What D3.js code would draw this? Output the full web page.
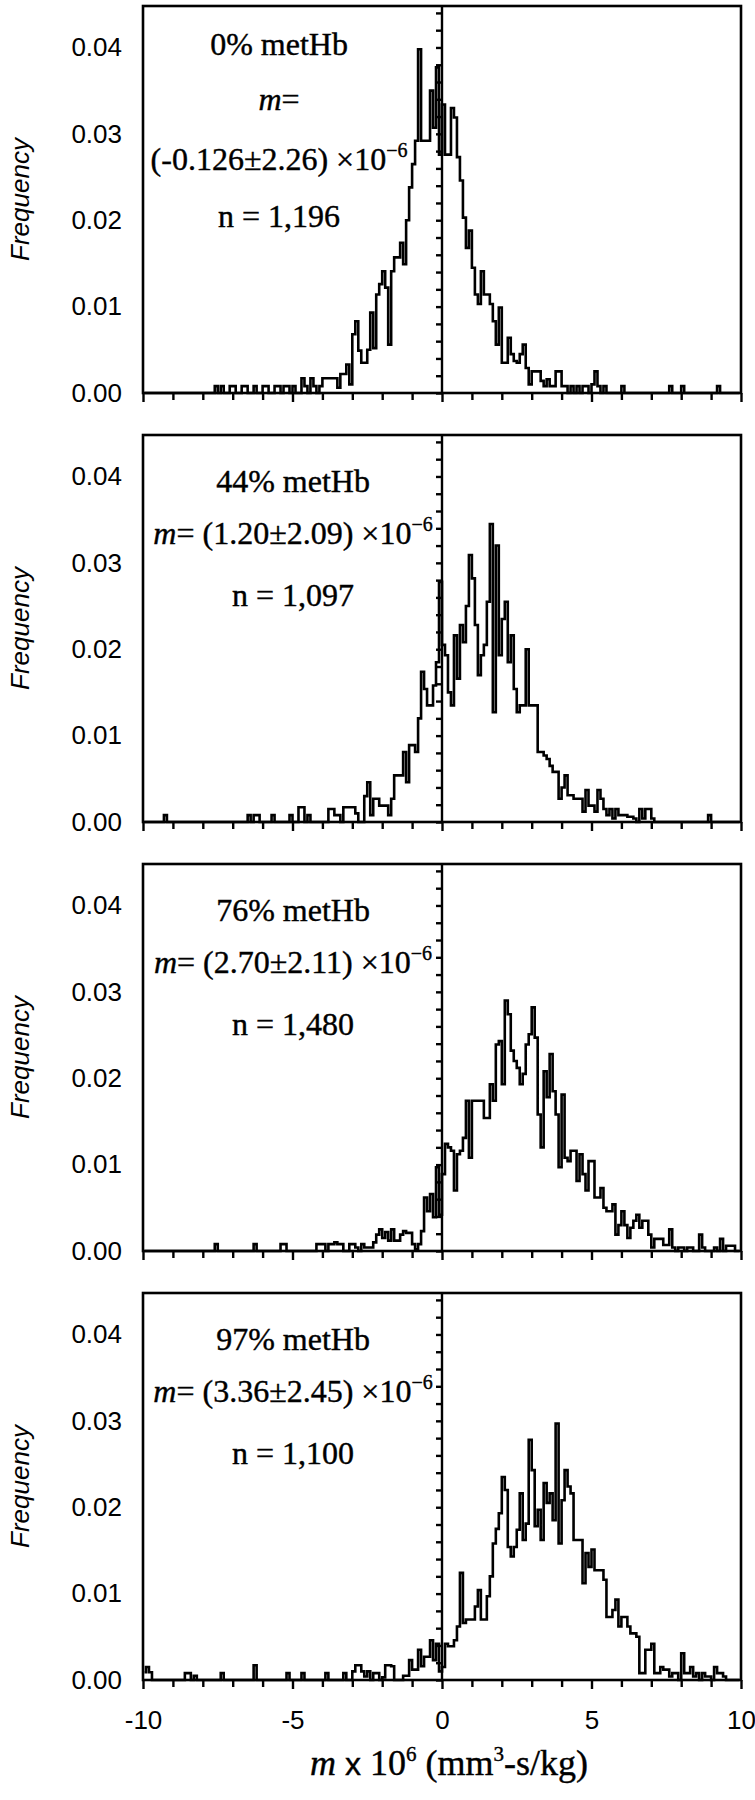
<!DOCTYPE html>
<html>
<head>
<meta charset="utf-8">
<script src="https://cdn.jsdelivr.net/npm/d3@7"></script>
<style>
  body { margin: 0; background: #fff; }
  svg { display: block; }
</style>
</head>
<body>
<div id="chart"></div>
<script>
// histogram bins: lower edge -10, width 0.1, frequency values in units of 0.001
const binStart = -10;
const binWidth = 0.1;
const FREQ_UNIT = 0.001;

const freq0 = [
  0,0,0,0,0,0,0,0,0,0,
  0,0,0,0,0,0,0,0,0,0,
  0,0,0,0,.8,0,.8,0,0,.8,
  .8,0,0,.8,.8,0,0,.8,0,0,
  .8,.8,0,0,.8,.8,0,.8,.8,0,
  .8,0,0,1.7,.8,0,1.7,.8,0,.8,
  1.7,1.7,1.7,1.7,1.7,.6,2.2,2.2,3.3,1.0,
  6.8,8.3,4.9,3.5,3.5,5.0,9.3,5.2,11.4,12.6,
  14.1,12.2,5.6,14.1,15.7,15.7,17.4,14.9,20.0,23.8,
  26.5,29.2,39.8,29.2,29.2,29.2,35.0,30.7,37.7,27.6,
  33.4,27.6,27.6,33.0,31.9,27.3,24.6,20.3,16.8,18.8,
  14.5,11.4,10.3,14.1,11.4,11.4,10.3,8.3,5.6,9.9,
  3.5,3.5,6.4,4.5,3.7,3.5,4.5,5.6,2.9,1.0,
  2.5,2.5,2.5,1.4,.8,1.6,.8,.8,2.5,2.5,
  .8,.8,0,.8,0,.8,0,.8,.8,0,
  1.0,2.5,.8,0,.8,0,0,0,0,0,
  .8,0,0,0,0,0,0,0,0,0,
  0,0,0,0,0,0,.8,0,0,0,
  .8,0,0,0,0,0,0,0,0,0,
  0,0,.8,0,0,0,0,0,0,0
];

const freq44 = [
  0,0,0,0,0,0,0,.8,0,0,
  0,0,0,0,0,0,0,0,0,0,
  0,0,0,0,0,0,0,0,0,0,
  0,0,0,0,0,.8,0,.8,.8,0,
  0,0,0,.8,0,0,0,0,0,.8,
  0,0,1.7,1.7,0,.8,0,0,0,0,
  0,0,1.5,1.5,.8,.8,0,1.7,1.7,1.7,
  1.7,1.0,0,0,3.0,4.6,.8,2.7,2.7,1.9,
  1.9,1.9,.8,2.7,5.4,5.4,5.4,8.1,4.6,8.9,
  8.9,8.1,12.0,17.4,15.4,13.5,13.5,15.8,18.5,27.8,
  20.5,19.3,15.0,13.5,21.6,16.6,22.8,20.8,25.0,30.9,
  28.2,22.8,17.0,19.3,20.5,25.5,34.5,12.7,32.0,19.3,
  23.5,25.5,18.5,21.6,15.4,12.7,13.5,13.5,20.0,13.5,
  13.5,13.5,8.1,8.1,7.7,7.3,6.5,5.8,5.8,2.7,
  4.0,5.4,3.1,3.1,2.7,2.7,2.7,1.2,3.7,1.9,
  1.9,1.2,3.7,2.7,1.5,.8,1.5,.4,1.5,.8,
  .8,.8,.6,.6,.4,0,1.5,.4,1.5,1.5,
  .4,0,0,0,0,0,0,0,0,0,
  0,0,0,0,0,0,0,0,0,.8,
  0,0,0,0,0,0,0,0,0,0
];

const freq76 = [
  0,0,0,0,0,0,0,0,0,0,
  0,0,0,0,0,0,0,0,0,0,
  0,0,0,0,.8,0,0,0,0,0,
  0,0,0,0,0,0,0,.8,0,0,
  0,0,0,0,0,0,.8,.8,0,0,
  0,0,0,0,0,0,0,0,.8,.8,
  .8,0,.8,.8,1.0,.8,.8,0,0,.8,
  .8,.4,0,.8,.4,.4,.4,1.0,1.9,2.5,
  1.5,2.2,1.2,2.5,1.2,1.2,1.9,2.3,2.1,2.1,
  .8,.2,.8,2.3,6.2,4.6,6.6,3.9,9.7,4.2,
  8.9,12.4,12.0,11.6,7.0,11.2,11.6,13.1,17.4,10.8,
  17.4,17.4,17.4,17.4,15.4,15.4,19.3,17.4,23.9,24.3,
  19.3,29.0,27.4,23.2,22.0,21.2,19.3,20.5,23.9,25.1,
  28.2,24.7,15.8,12.0,20.8,17.8,22.8,18.5,15.8,9.7,
  18.1,10.8,10.4,11.6,11.6,8.1,11.2,8.9,7.0,10.4,
  10.4,6.2,6.2,7.3,5.0,4.6,4.6,5.4,1.9,3.0,
  4.6,3.0,1.5,2.7,3.5,4.2,2.7,3.5,3.5,1.9,
  .4,1.4,1.4,1.4,.7,.7,2.5,.4,0,.4,
  .4,0,.4,.4,0,0,1.9,.4,0,0,
  0,.4,0,1.4,0,.6,.6,.6,0,0
];

const freq97 = [
  .9,1.5,.9,0,0,0,0,0,0,0,
  0,0,0,0,.8,.8,0,.5,0,0,
  0,0,0,0,0,0,.8,0,0,0,
  0,0,0,0,0,0,0,1.7,0,0,
  0,0,0,0,0,0,0,0,.8,0,
  0,0,0,.8,0,0,0,0,0,0,
  0,.8,0,0,0,0,0,.8,0,0,
  1.0,1.7,1.7,1.0,.4,1.0,0,.8,.8,0,
  .3,1.7,1.7,1.6,0,0,0,.5,.5,2.3,
  1.2,1.2,3.5,1.6,2.7,2.7,4.6,2.3,4.2,1.0,
  1.5,4.2,3.9,3.9,4.6,6.2,12.4,6.6,7.0,7.0,
  7.0,8.5,10.4,7.0,7.0,9.7,12.0,15.8,17.5,19.3,
  23.5,22.0,15.4,14.3,15.4,17.4,21.6,16.2,18.1,27.8,
  24.3,17.8,19.7,16.2,22.8,20.5,21.6,18.5,29.7,15.8,
  20.8,24.3,22.4,21.6,16.2,16.2,16.2,11.2,14.7,13.1,
  15.1,12.7,12.7,12.7,11.6,7.3,7.3,8.1,9.3,6.2,
  7.3,7.3,6.2,5.4,5.4,5.0,.8,.8,3.5,3.5,
  4.2,.8,.8,1.5,1.2,1.2,.4,.8,.8,0,
  3.1,.8,.8,1.5,.4,.8,0,.8,.4,.4,
  0,1.5,.8,.8,.4,0,0,0,0,0
];

const seriesFreq = [freq0, freq44, freq76, freq97];
const panelLabels = ["0% metHb", "44% metHb", "76% metHb", "97% metHb"];
const slopeTexts = ["(-0.126\u00b12.26)", "(1.20\u00b12.09)", "(2.70\u00b12.11)", "(3.36\u00b12.45)"];
const countTexts = ["n = 1,196", "n = 1,097", "n = 1,480", "n = 1,100"];
const xTickValues = [-10, -5, 0, 5, 10];
const yTickValues = [0, 0.01, 0.02, 0.03, 0.04];

const W = 755, H = 1800;
const left = 143, right = 741;
const panelTop0 = 6, panelStep = 429, panelH = 387;
const sansFont = "'Liberation Sans', Arial, sans-serif";
const serifFont = "'Liberation Serif', 'Times New Roman', serif";

const svg = d3.select("#chart").append("svg")
    .attr("width", W)
    .attr("height", H);

svg.append("rect").attr("width", W).attr("height", H).attr("fill", "#fff");

const x = d3.scaleLinear().domain([-10, 10]).range([left, right]);

const line = d3.line()
    .curve(d3.curveStep);

seriesFreq.forEach((freq, p) => {
    const top = panelTop0 + p * panelStep;
    const bottom = top + panelH;
    const y = d3.scaleLinear().domain([0, 0.0448]).range([bottom, top]);
    const g = svg.append("g").attr("class", "panel");

    // data line
    const pts = freq.map((f, i) => [x(binStart + binWidth * (i + 0.5)), y(f * FREQ_UNIT)]);
    g.append("path")
        .attr("d", line(pts))
        .attr("fill", "none")
        .attr("stroke", "#000")
        .attr("stroke-width", 2.6)
        .attr("stroke-linejoin", "miter");

    // frame
    g.append("rect")
        .attr("x", left).attr("y", top)
        .attr("width", right - left).attr("height", panelH)
        .attr("fill", "none")
        .attr("stroke", "#000")
        .attr("stroke-width", 2.6);

    // y labels
    const yAxis = g.append("g")
        .attr("transform", `translate(${left},0)`)
        .call(d3.axisLeft(y).tickValues(yTickValues).tickFormat(d3.format(".2f")).tickSize(0).tickPadding(21));
    yAxis.select(".domain").remove();
    yAxis.selectAll("text")
        .style("font-family", sansFont)
        .style("font-size", "26px")
        .attr("fill", "#000");

    // zero line with minor ticks
    const zAxis = g.append("g")
        .attr("transform", `translate(${x(0)},0)`)
        .call(d3.axisLeft(y).tickValues(d3.range(0, 0.0441, 0.002)).tickSize(6).tickFormat(""));
    zAxis.select(".domain").attr("stroke-width", 2.4).attr("d", `M0,${bottom}V${top}`);
    zAxis.selectAll(".tick line").attr("stroke-width", 2.4);

    // x axis ticks
    const xAxis = g.append("g")
        .attr("transform", `translate(0,${bottom})`)
        .call(d3.axisBottom(x).tickValues(d3.range(-10, 10.01, 1)).tickSize(7).tickPadding(24)
            .tickFormat(d => (p === 3 && xTickValues.includes(d)) ? String(d) : ""));
    xAxis.select(".domain").remove();
    xAxis.selectAll(".tick line")
        .attr("stroke-width", 2.4)
        .attr("y2", d => d % 5 === 0 ? 9 : 7);
    xAxis.selectAll("text")
        .style("font-family", sansFont)
        .style("font-size", "26px")
        .attr("fill", "#000");

    // y title
    g.append("text")
        .attr("transform", `translate(29,${(top + bottom) / 2}) rotate(-90)`)
        .attr("text-anchor", "middle")
        .style("font-family", sansFont)
        .style("font-style", "italic")
        .style("font-size", "26px")
        .text("Frequency");

    // annotation
    const ann = g.append("g")
        .style("font-family", serifFont)
        .style("font-size", "32px")
        .attr("stroke", "#000")
        .attr("stroke-width", 0.4)
        .attr("text-anchor", "middle");
    if (p === 0) {
        const cx = 279;
        ann.append("text").attr("x", cx).attr("y", top + 49).text(panelLabels[p]);
        const t2 = ann.append("text").attr("x", cx).attr("y", top + 104);
        t2.append("tspan").style("font-style", "italic").text("m");
        t2.append("tspan").text("=");
        const t3 = ann.append("text").attr("x", cx).attr("y", top + 164);
        t3.append("tspan").text(slopeTexts[p] + " \u00d710");
        t3.append("tspan").attr("dy", -13).style("font-size", "20px").text("\u22126");
        ann.append("text").attr("x", cx).attr("y", top + 221).text(countTexts[p]);
    } else {
        const cx = 293;
        ann.append("text").attr("x", cx).attr("y", top + 57).text(panelLabels[p]);
        const t2 = ann.append("text").attr("x", cx).attr("y", top + 109);
        t2.append("tspan").style("font-style", "italic").text("m");
        t2.append("tspan").text("= " + slopeTexts[p] + " \u00d710");
        t2.append("tspan").attr("dy", -13).style("font-size", "20px").text("\u22126");
        ann.append("text").attr("x", cx).attr("y", top + 171).text(countTexts[p]);
    }
});

// x title
const xt = svg.append("text")
    .attr("x", 449)
    .attr("y", 1775)
    .attr("text-anchor", "middle")
    .attr("stroke", "#000")
    .attr("stroke-width", 0.4)
    .style("font-family", serifFont)
    .style("font-size", "36px");
xt.append("tspan").style("font-style", "italic").text("m");
xt.append("tspan").style("font-family", sansFont).style("font-size", "32px").text(" x ");
xt.append("tspan").text("10");
xt.append("tspan").attr("dy", -14).style("font-size", "21px").text("6");
xt.append("tspan").attr("dy", 14).text(" (mm");
xt.append("tspan").attr("dy", -14).style("font-size", "21px").text("3");
xt.append("tspan").attr("dy", 14).text("-s/kg)");
</script>
</body>
</html>
